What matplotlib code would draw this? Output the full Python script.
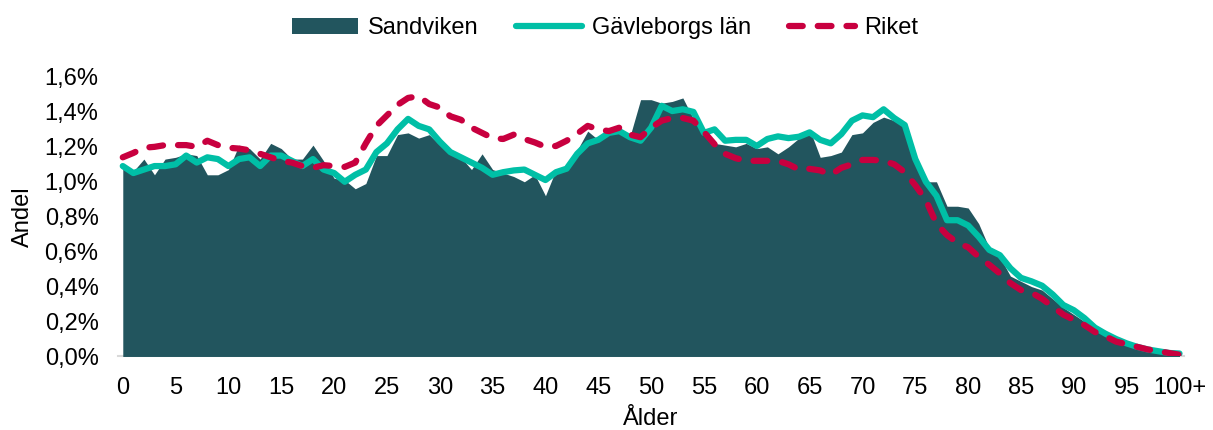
import numpy as np
import matplotlib
matplotlib.use("Agg")
from matplotlib import pyplot as plt
from matplotlib.ticker import FuncFormatter

plt.rcParams['font.family'] = ['Liberation Sans', 'DejaVu Sans']

# ages 0..100+
ages = list(range(101))
tick_pos = list(range(0, 101, 5))
tick_labels = [str(t) for t in tick_pos[:-1]] + ['100+']

# share of population per age, in percent
sandviken = [1.08, 1.06, 1.13, 1.04, 1.13, 1.14, 1.16, 1.15, 1.04, 1.04,
             1.07, 1.21, 1.19, 1.13, 1.22, 1.19, 1.13, 1.13, 1.21, 1.12,
             1.02, 1.01, 0.96, 0.99, 1.15, 1.15, 1.27, 1.28, 1.25, 1.27,
             1.21, 1.16, 1.14, 1.07, 1.16, 1.07, 1.05, 1.03, 1.00, 1.04,
             0.92, 1.07, 1.08, 1.18, 1.29, 1.24, 1.28, 1.30, 1.26, 1.47,
             1.47, 1.45, 1.46, 1.48, 1.36, 1.28, 1.22, 1.21, 1.20, 1.22,
             1.19, 1.20, 1.16, 1.20, 1.25, 1.30, 1.14, 1.15, 1.17, 1.27,
             1.28, 1.34, 1.37, 1.35, 1.32, 1.12, 1.00, 1.00, 0.86, 0.86,
             0.85, 0.76, 0.62, 0.57, 0.46, 0.43, 0.40, 0.38, 0.33, 0.28,
             0.24, 0.20, 0.16, 0.125, 0.097, 0.078, 0.059, 0.044, 0.030, 0.021,
             0.011]

gavleborg = [1.09, 1.05, 1.07, 1.09, 1.09, 1.10, 1.15, 1.11, 1.14, 1.13,
             1.09, 1.13, 1.14, 1.09, 1.15, 1.15, 1.12, 1.09, 1.13, 1.07,
             1.05, 1.00, 1.04, 1.07, 1.17, 1.22, 1.30, 1.36, 1.32, 1.30,
             1.23, 1.17, 1.14, 1.11, 1.08, 1.04, 1.055, 1.065, 1.07, 1.04,
             1.01, 1.055, 1.075, 1.16, 1.22, 1.24, 1.28, 1.29, 1.255, 1.235,
             1.31, 1.435, 1.405, 1.415, 1.40, 1.28, 1.30, 1.235, 1.24, 1.24,
             1.205, 1.245, 1.26, 1.25, 1.258, 1.283, 1.24, 1.22, 1.273, 1.35,
             1.38, 1.37, 1.415, 1.365, 1.325, 1.13, 1.00, 0.92, 0.78, 0.78,
             0.75, 0.685, 0.61, 0.58, 0.505, 0.45, 0.43, 0.405, 0.355, 0.295,
             0.265, 0.22, 0.165, 0.13, 0.10, 0.075, 0.055, 0.04, 0.03, 0.02,
             0.017]

riket = [1.14, 1.165, 1.195, 1.20, 1.21, 1.21, 1.21, 1.20, 1.235, 1.21,
         1.195, 1.19, 1.18, 1.16, 1.14, 1.12, 1.11, 1.09, 1.08, 1.095,
         1.09, 1.085, 1.11, 1.22, 1.32, 1.38, 1.44, 1.48, 1.49, 1.445,
         1.425, 1.375, 1.355, 1.31, 1.28, 1.25, 1.245, 1.27, 1.245, 1.225,
         1.20, 1.205, 1.235, 1.275, 1.32, 1.30, 1.29, 1.31, 1.27, 1.255,
         1.31, 1.35, 1.365, 1.365, 1.35, 1.285, 1.215, 1.16, 1.135, 1.12,
         1.12, 1.12, 1.12, 1.10, 1.07, 1.074, 1.065, 1.04, 1.08, 1.10,
         1.125, 1.125, 1.12, 1.10, 1.055, 0.98, 0.895, 0.76, 0.695, 0.65,
         0.625, 0.57, 0.525, 0.475, 0.42, 0.38, 0.365, 0.33, 0.285, 0.24,
         0.21, 0.18, 0.14, 0.115, 0.085, 0.07, 0.055, 0.04, 0.03, 0.02,
         0.01]

c_area = '#22555e'
c_teal = '#00bfa6'
c_red = '#c8003f'

fig = plt.figure(figsize=(12.13, 4.30), dpi=100)
ax = fig.add_axes([0.0973, 0.171, 0.879, 0.650])

ax.fill_between(ages, 0, sandviken, color=c_area, lw=0, label='Sandviken', zorder=1)
ax.plot(ages, gavleborg, color=c_teal, lw=4.5, solid_capstyle='round',
        solid_joinstyle='round', label='Gävleborgs län', zorder=2)
ax.plot(ages, riket, color=c_red, lw=4.5, dashes=(2.2, 2.4), dash_capstyle='round',
        label='Riket', zorder=3)

ax.set_xlim(-0.45, 100.45)
ax.set_ylim(0, 1.6)
ax.set_xticks(tick_pos)
ax.set_xticklabels(tick_labels)
ax.set_yticks(np.arange(0, 1.61, 0.2))
ax.yaxis.set_major_formatter(FuncFormatter(lambda v, p: f'{v:.1f}%'.replace('.', ',')))
ax.tick_params(axis='both', length=0, labelsize=17, colors='black')
ax.tick_params(axis='x', pad=15)
ax.tick_params(axis='y', pad=14)

for s in ['top', 'right', 'left']:
    ax.spines[s].set_visible(False)
ax.spines['bottom'].set_color('#d9d9d9')
ax.spines['bottom'].set_linewidth(1.5)
ax.spines['bottom'].set_zorder(0)

ax.set_xlabel('Ålder', fontsize=17, labelpad=6)
ax.set_ylabel('Andel', fontsize=17, labelpad=8)

ax.legend(loc='center', bbox_to_anchor=(0.457, 1.175), ncol=3, frameon=False,
          fontsize=17, handlelength=2.8, handletextpad=0.4, columnspacing=1.6)

fig.savefig('out.png', dpi=100)
